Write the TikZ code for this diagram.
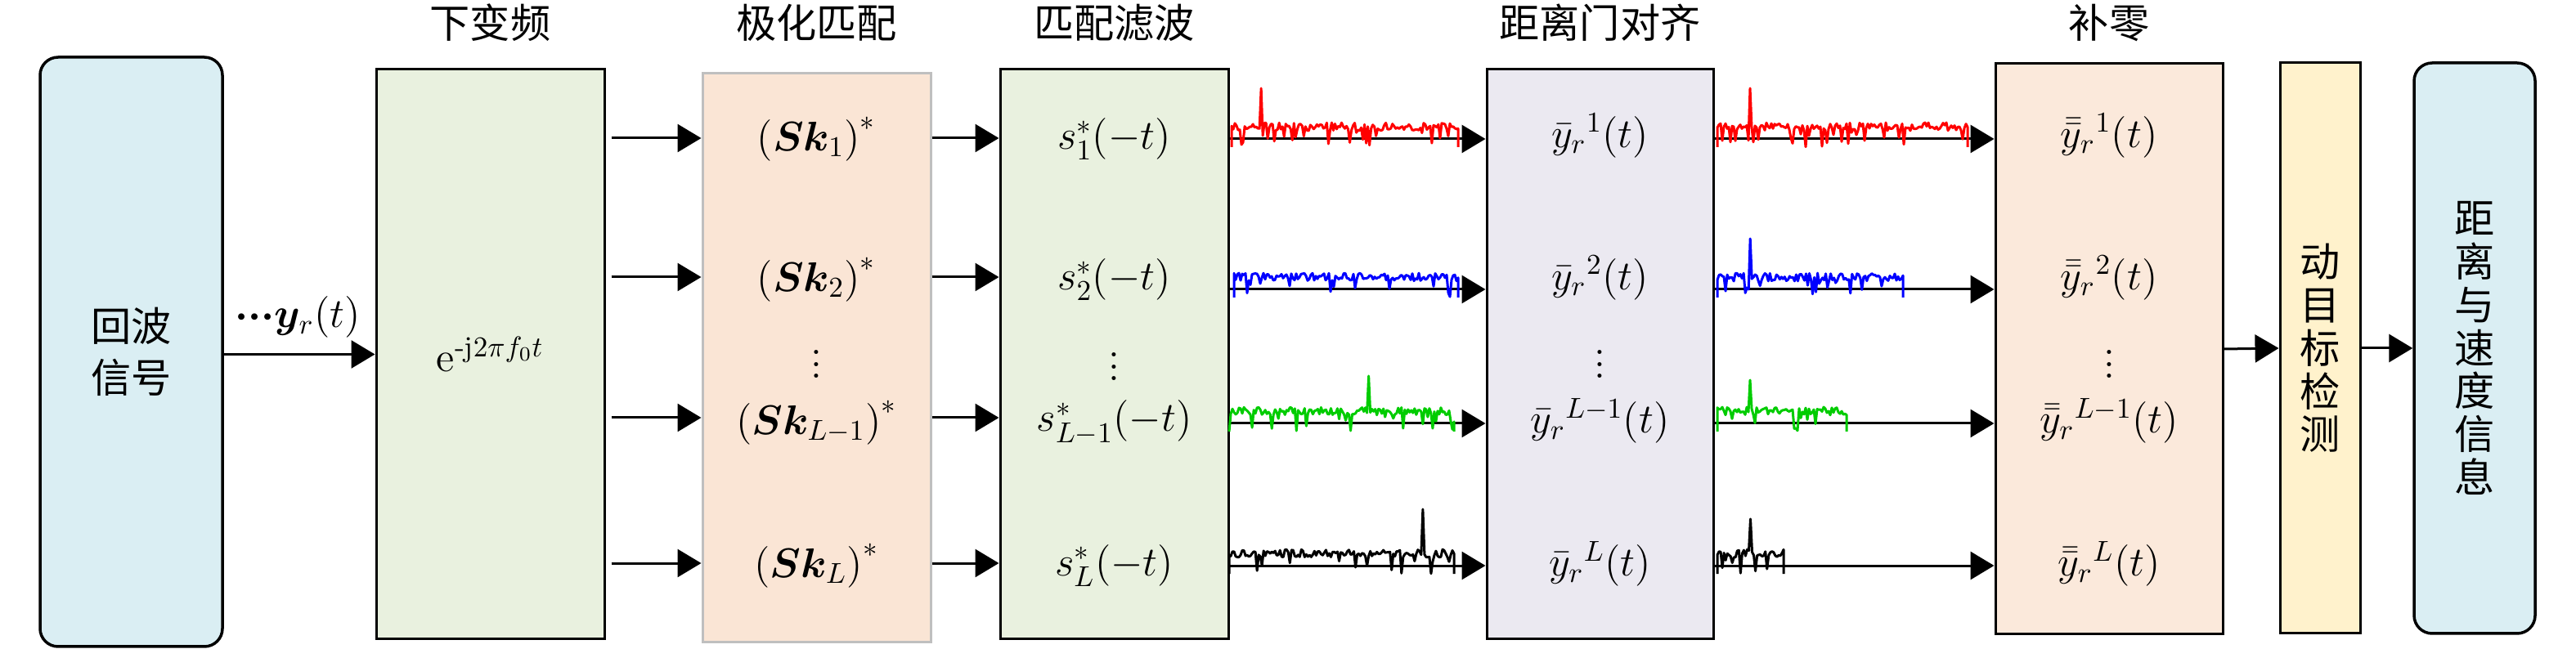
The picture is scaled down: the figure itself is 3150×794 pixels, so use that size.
\documentclass[tikz,border=0pt]{standalone}
\usepackage{fontspec}
\usepackage{amsmath,bm}
\usetikzlibrary{arrows.meta,positioning}
\newfontfamily\cjk{Noto Sans CJK SC}
\definecolor{echoblue}{RGB}{218,238,243}
\definecolor{dcgreen}{RGB}{233,241,223}
\definecolor{pmpeach}{RGB}{250,229,213}
\definecolor{rggray}{RGB}{235,233,241}
\definecolor{zppeach}{RGB}{251,233,219}
\definecolor{detyellow}{RGB}{255,242,204}
\definecolor{sgreen}{RGB}{0,204,0}
\tikzstyle{box}=[draw, line width=0.3mm, inner sep=0, minimum width=27.9mm, minimum height=69.7mm]
\tikzstyle{rbox}=[box, rounded corners=2.2mm, line width=0.35mm]
\tikzstyle{title}=[font=\cjk\fontsize{14}{17}\selectfont]
\tikzstyle{vtext}=[font=\cjk\fontsize{14}{15}\selectfont, align=center]
\tikzstyle{row}=[inner sep=0]
\tikzstyle{arr}=[line width=0.3mm, -{Triangle[length=2.9mm,width=3.4mm]}]
\tikzstyle{trace}=[line width=0.3mm, line join=round]

\begin{document}
\begin{tikzpicture}[x=0.1mm, y=-0.1mm, font=\fontsize{14.5}{17}\selectfont]
	\useasboundingbox (0,0) rectangle (3150,794);

	% blocks
	\node[rbox, fill=echoblue, minimum width=22.3mm, minimum height=72.1mm,
		font=\cjk\fontsize{14}{18}\selectfont, align=center] (echo) at (160.5,430.5) {回波\\信号};
	\node[box, fill=dcgreen] (dc) at (599.5,433.5) {$\mathrm{e}^{\text{-}\mathrm{j}2\pi f_0 t}$};
	\node[box, fill=pmpeach, draw=gray!50, minimum height=69.6mm] (pm) at (998.5,438) {};
	\node[box, fill=dcgreen] (mf) at (1362.5,433.5) {};
	\node[box, fill=rggray, minimum width=27.7mm] (rg) at (1956.5,433.5) {};
	\node[box, fill=zppeach, minimum width=27.8mm, minimum height=69.8mm] (zp) at (2579,427) {};
	\node[box, vtext, fill=detyellow, minimum width=9.8mm, minimum height=69.8mm] (det) at (2837,426) {动\\目\\标\\检\\测};
	\node[rbox, vtext, fill=echoblue, minimum width=14.8mm, minimum height=69.8mm] (out) at (3026,426) {距\\离\\与\\速\\度\\信\\息};

	% titles
	\node[title] (t-dc) at (dc |- 0,28) {下变频};
	\node[title] (t-pm) at (pm |- 0,28) {极化匹配};
	\node[title] (t-mf) at (mf |- 0,28) {匹配滤波};
	\node[title] (t-rg) at (rg |- 0,28) {距离门对齐};
	\node[title] (t-zp) at (zp |- 0,28) {补零};

	% rows
	\node[row] (pm1) at (pm |- 0,170) {$\left(\bm{Sk}_1\right)^{*}$};
	\node[row] (pm2) at (pm |- 0,342) {$\left(\bm{Sk}_2\right)^{*}$};
	\node[row] (pm3) at (pm |- 0,435) {$\vdots$};
	\node[row] (pm4) at (pm |- 0,517) {$\left(\bm{Sk}_{L-1}\right)^{*}$};
	\node[row] (pm5) at (pm |- 0,692) {$\left(\bm{Sk}_L\right)^{*}$};

	\node[row] (mf1) at (mf |- 0,170) {$s_1^{*}(-t)$};
	\node[row] (mf2) at (mf |- 0,342) {$s_2^{*}(-t)$};
	\node[row] (mf3) at (mf |- 0,438) {$\vdots$};
	\node[row] (mf4) at (mf |- 0,517) {$s_{L-1}^{*}(-t)$};
	\node[row] (mf5) at (mf |- 0,692) {$s_L^{*}(-t)$};

	\node[row] (rg1) at (rg |- 0,166) {$\bar{y}_r{}^{1}(t)$};
	\node[row] (rg2) at (rg |- 0,340) {$\bar{y}_r{}^{2}(t)$};
	\node[row] (rg3) at (rg |- 0,435) {$\vdots$};
	\node[row] (rg4) at (rg |- 0,515) {$\bar{y}_r{}^{L-1}(t)$};
	\node[row] (rg5) at (rg |- 0,690) {$\bar{y}_r{}^{L}(t)$};

	\node[row] (zp1) at (zp |- 0,166) {$\bar{\bar{y}}_r{}^{1}(t)$};
	\node[row] (zp2) at (zp |- 0,340) {$\bar{\bar{y}}_r{}^{2}(t)$};
	\node[row] (zp3) at (zp |- 0,435) {$\vdots$};
	\node[row] (zp4) at (zp |- 0,515) {$\bar{\bar{y}}_r{}^{L-1}(t)$};
	\node[row] (zp5) at (zp |- 0,690) {$\bar{\bar{y}}_r{}^{L}(t)$};

	\node[row] (ylab) at (364,388) {$\bm{\mathord{\cdotp}\mathord{\cdotp}\mathord{\cdotp}y}_r(t)$};

	% arrows
	\draw[arr] (echo.east |- dc.west) -- (dc.west);
	\foreach \y in {169,339,511,689} {
		\draw[arr] (dc.east |- 0,\y) ++(7,0) -- (pm.west |- 0,\y);
		\draw[arr] (pm.east |- 0,\y) -- (mf.west |- 0,\y);
	};
	\foreach \yb in {170,354,518,692} {
		\draw[arr] (mf.east |- 0,\yb) -- (rg.west |- 0,\yb);
		\draw[arr] (rg.east |- 0,\yb) -- (zp.west |- 0,\yb);
	};
	\draw[arr] (zp.east) -- (det.west);
	\draw[arr] (det.east) -- (out.west);

	% range profiles
	\foreach \c/\xa/\xb/\yb/\px/\py/\s in {
		red/1506/1783/170/1542/108/11, blue/1509/1783/354/1600/292/12,
		sgreen/1503/1778/518/1673/460/13, black/1503/1778/692/1740/623/14,
		red/2100/2406/170/2140/108/21, blue/2100/2327/354/2140/292/22,
		sgreen/2100/2258/518/2140/465/23, black/2100/2181/692/2140/635/24} {
		\pgfmathtruncatemacro\ns{(\xb-\xa)/2+1}
		\pgfmathsetmacro\dx{(\xb-\xa)/(\ns-1)}
		\pgfmathsetseed{\s}
		\draw[trace, \c] (\xa,\yb+10) -- plot[domain=\xa:\xb, samples=\ns]
			(\x, {\yb-(abs(\x-\px)<\dx/2 ? \yb-\py : (rnd<0.12 ? 18*rnd-10 : 10+10*rnd))}) -- (\xb,\yb+10);
	};
\end{tikzpicture}
\end{document}
